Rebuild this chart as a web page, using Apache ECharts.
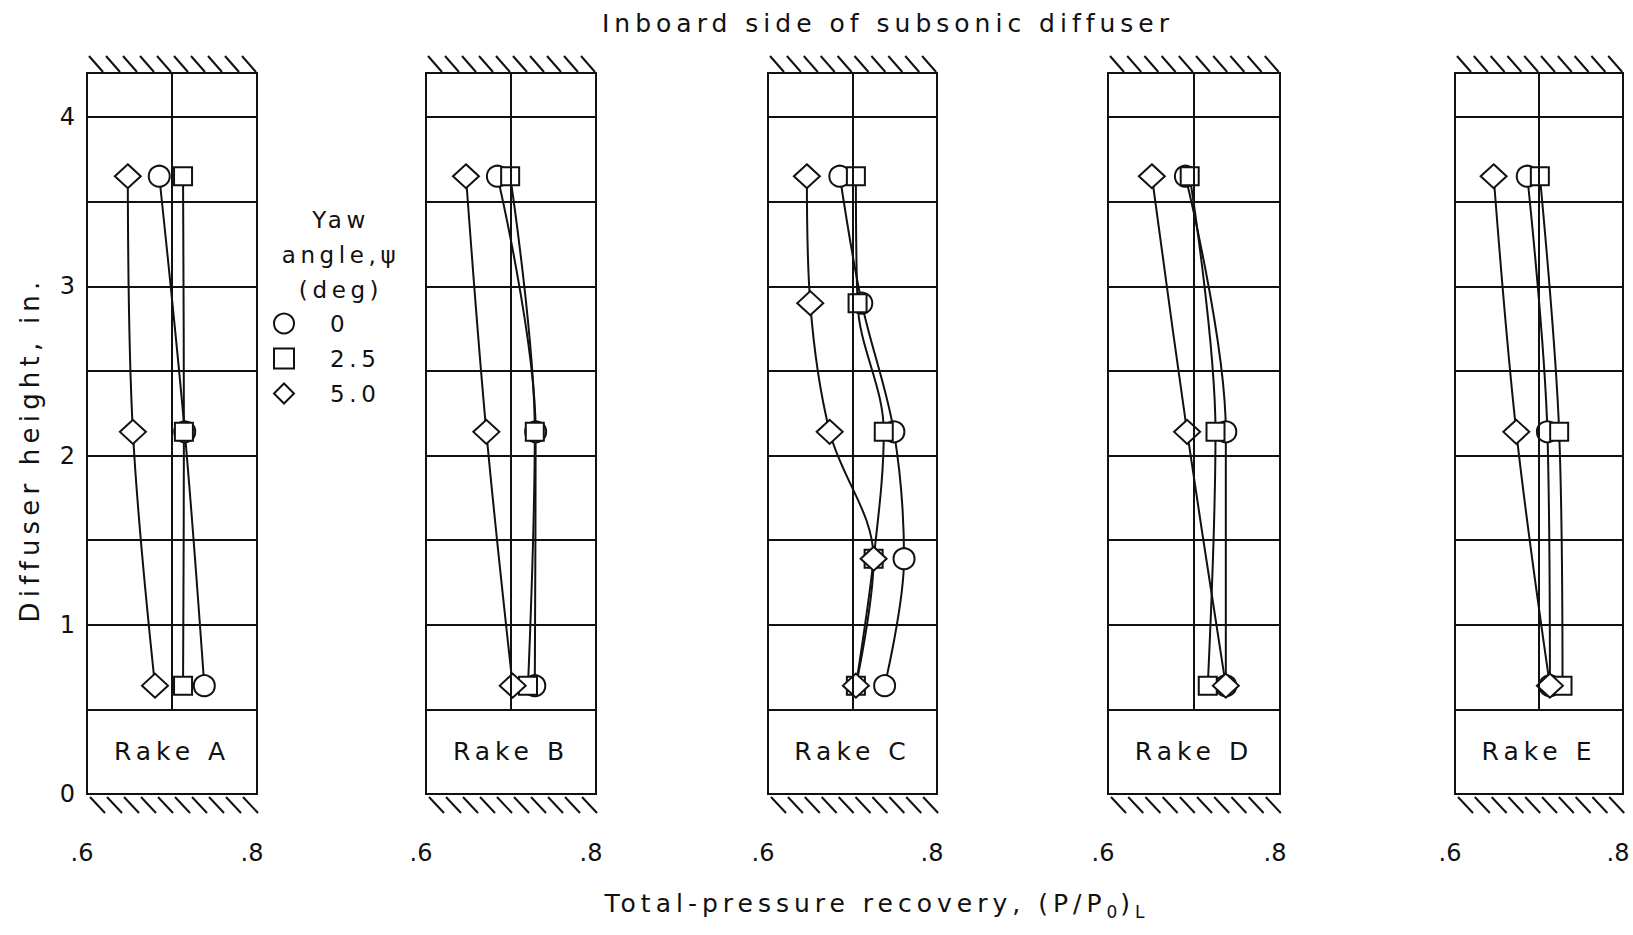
<!DOCTYPE html>
<html>
<head>
<meta charset="utf-8">
<script src="https://cdn.jsdelivr.net/npm/echarts@6/dist/echarts.min.js"></script>
<style>
html,body{margin:0;padding:0;background:#fff;}
#chart{width:1633px;height:935px;}
/* lettering of the original is spaced out; tick numbers (24px) stay tight */
#chart text{letter-spacing:0.2em;}
#chart text[style*="24px"]{letter-spacing:0;}
</style>
</head>
<body>
<div id="chart"></div>
<script>
// heights of the rake probes (in.), bottom to top
var heights = [0.64, 2.14, 3.65];
var heightsC = [0.64, 1.39, 2.14, 2.90, 3.65];
var rakeNames = ['Rake A', 'Rake B', 'Rake C', 'Rake D', 'Rake E'];
var yawNames = ['0', '2.5', '5.0'];
var xTicks = [0.6, 0.8];
var yMax = 4.26;

// total-pressure recovery at each probe, bottom to top
var rakeA_0   = [0.738, 0.715, 0.685];
var rakeA_25  = [0.713, 0.714, 0.713];
var rakeA_50  = [0.680, 0.654, 0.648];

var rakeB_0   = [0.728, 0.729, 0.684];
var rakeB_25  = [0.720, 0.728, 0.699];
var rakeB_50  = [0.702, 0.671, 0.647];

var rakeC_0   = [0.738, 0.761, 0.749, 0.711, 0.685];
var rakeC_25  = [0.704, 0.725, 0.737, 0.706, 0.704];
var rakeC_50  = [0.704, 0.725, 0.673, 0.650, 0.646];

var rakeD_0   = [0.737, 0.737, 0.690];
var rakeD_25  = [0.716, 0.725, 0.695];
var rakeD_50  = [0.737, 0.692, 0.651];

var rakeE_0   = [0.713, 0.710, 0.686];
var rakeE_25  = [0.728, 0.724, 0.701];
var rakeE_50  = [0.713, 0.673, 0.646];

var panels = [
	{h: heights,  vals: [rakeA_0, rakeA_25, rakeA_50]},
	{h: heights,  vals: [rakeB_0, rakeB_25, rakeB_50]},
	{h: heightsC, vals: [rakeC_0, rakeC_25, rakeC_50]},
	{h: heights,  vals: [rakeD_0, rakeD_25, rakeD_50]},
	{h: heights,  vals: [rakeE_0, rakeE_25, rakeE_50]}
];

var FONT = '"DejaVu Sans", sans-serif';
var INK = '#111';
var gridLeft = [87, 426, 768, 1108, 1455];
var gridWidth = [170, 170, 169, 172, 168];
var symbols = ['circle', 'rect', 'diamond'];
var symbolSizes = [21, 18, [26, 24]];

var pairs = function(xs, ys){
	var out = [];
	for (var i = 0; i < xs.length; i++) {
		out.push([xs[i], ys[i]]);
	}
	return out;
};

// hatching above and below each rake plus its name box text
var rakeDecor = function(name){
	return function(params, api){
		var cs = params.coordSys;
		var kids = [];
		for (var k = 0; k < 10; k++) {
			var xt = cs.x + 2 + k * cs.width / 10;
			kids.push({type: 'line', shape: {x1: xt, y1: cs.y - 17, x2: xt + 14, y2: cs.y - 1},
				style: {stroke: INK, lineWidth: 2}});
			var xb = cs.x + 3 + k * cs.width / 10;
			kids.push({type: 'line', shape: {x1: xb, y1: cs.y + cs.height + 3, x2: xb + 15, y2: cs.y + cs.height + 19},
				style: {stroke: INK, lineWidth: 2}});
		}
		var p = api.coord([api.value(0), api.value(1)]);
		kids.push({type: 'text', x: p[0], y: p[1],
			style: {text: name, fill: INK, fontSize: 25, fontFamily: FONT, align: 'center', verticalAlign: 'middle'}});
		return {type: 'group', children: kids};
	};
};

var grids = [], xAxes = [], yAxes = [], series = [];
for (var i = 0; i < panels.length; i++) {
	grids.push({left: gridLeft[i], width: gridWidth[i], top: 73, height: 721,
		show: true, borderColor: INK, borderWidth: 2, backgroundColor: 'transparent'});
	xAxes.push({
		type: 'value', gridIndex: i, min: 0.6, max: 0.8, interval: 0.1,
		axisLine: {show: false}, axisTick: {show: false}, splitLine: {show: false},
		axisLabel: {
			margin: 47, color: INK, fontSize: 24, fontFamily: FONT, padding: [0, 10, 0, 0],
			formatter: function(v){
				var t = Math.round(v * 10) / 10;
				return xTicks.indexOf(t) >= 0 ? '.' + Math.round(t * 10) : '';
			}
		}
	});
	yAxes.push({
		type: 'value', gridIndex: i, min: 0, max: yMax, interval: 0.5,
		name: i === 0 ? 'Diffuser height, in.' : '',
		nameLocation: 'middle', nameGap: 44, nameRotate: 90,
		nameTextStyle: {color: INK, fontSize: 26, fontFamily: FONT, padding: [0, 32, 0, 0]},
		axisLine: {show: false}, axisTick: {show: false},
		splitLine: {show: true, lineStyle: {color: INK, width: 2}},
		axisLabel: {
			show: i === 0, margin: 12, color: INK, fontSize: 24, fontFamily: FONT,
			formatter: function(v){
				return Math.abs(v - Math.round(v)) < 1e-6 ? String(Math.round(v)) : '';
			}
		}
	});
	series.push({
		type: 'custom', xAxisIndex: i, yAxisIndex: i, z: 1, silent: true,
		renderItem: rakeDecor(rakeNames[i]),
		data: [[0.7, 0.25]],
		markLine: {
			silent: true, symbol: 'none', label: {show: false},
			lineStyle: {color: INK, width: 2, type: 'solid'},
			data: [[{coord: [0.7, 0.5]}, {coord: [0.7, yMax]}]]
		}
	});
	for (var s = 0; s < 3; s++) {
		series.push({
			type: 'line', name: yawNames[s], xAxisIndex: i, yAxisIndex: i, z: 3,
			data: pairs(panels[i].vals[s], panels[i].h),
			smooth: 0.35,
			symbol: symbols[s], symbolSize: symbolSizes[s],
			lineStyle: {color: INK, width: 2},
			itemStyle: {color: '#fff', borderColor: INK, borderWidth: 2}
		});
	}
}

// rich pieces are laid out from measured widths, so pad each piece by the
// extra room the css letter spacing takes (chars x 0.2em)
var richPiece = function(size, chars, extra){
	var st = {color: INK, fontSize: size, fontFamily: FONT, fontWeight: 'normal', align: 'left',
		padding: [0, Math.round(chars * size * 0.2), 0, 0]};
	for (var k in extra) st[k] = extra[k];
	return st;
};

var chart = echarts.init(document.getElementById('chart'), null, {renderer: 'svg'});
chart.setOption({
	backgroundColor: '#fff',
	animation: false,
	title: [
		{text: 'Inboard side of subsonic diffuser', left: 883, top: 6, textAlign: 'center',
			textStyle: {color: INK, fontSize: 25, fontWeight: 'normal', fontFamily: FONT}},
		{text: 'Yaw\nangle,ψ\n(deg)', left: 336, top: 197, textAlign: 'center',
			textStyle: {color: INK, fontSize: 23, fontWeight: 'normal', fontFamily: FONT, lineHeight: 35}},
		{text: '{a|Total-pressure recovery, (P/P}{s|0}{b|)}{t|L}', left: 871, top: 881, textAlign: 'center',
			textStyle: {fontWeight: 'normal', rich: {
				a: richPiece(25, 29, {lineHeight: 34}),
				b: richPiece(25, 1, {lineHeight: 34}),
				s: richPiece(17, 1, {lineHeight: 17, verticalAlign: 'bottom'}),
				t: richPiece(17, 1, {lineHeight: 17, verticalAlign: 'bottom'})
			}}}
	],
	legend: {
		orient: 'vertical', left: 273, top: 312, padding: 0, itemGap: 12, itemWidth: 20, itemHeight: 20,
		data: [{name: '0', icon: 'circle'}, {name: '2.5', icon: 'rect'}, {name: '5.0', icon: 'diamond'}],
		itemStyle: {color: '#fff', borderColor: INK, borderWidth: 2},
		textStyle: {color: INK, fontSize: 23, fontFamily: FONT, padding: [0, 0, 0, 31]}
	},
	grid: grids,
	xAxis: xAxes,
	yAxis: yAxes,
	series: series
});
</script>
</body>
</html>
